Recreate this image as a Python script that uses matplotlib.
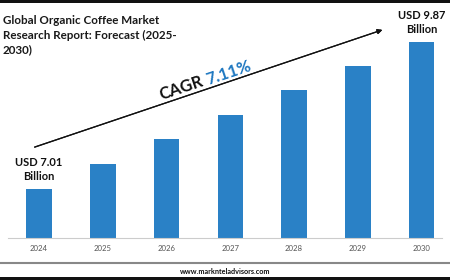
import matplotlib.pyplot as plt
from matplotlib.lines import Line2D
from matplotlib.patches import Rectangle

# data (bar heights are schematic, start value 7.01, end 9.87)
years = ['2024', '2025', '2026', '2027', '2028', '2029', '2030']
values = [7.01, 7.50, 7.98, 8.45, 8.94, 9.40, 9.87]
first_label = 'USD 7.01\nBillion'
last_label = 'USD 9.87\nBillion'
title = 'Global Organic Coffee Market\nResearch Report: Forecast (2025-\n2030)'
cagr_word = 'CAGR'
cagr_value = '7.11%'
source = 'www.marknteladvisors.com'

bar_color = '#2a81c6'
W, H = 450, 280
plt.rcParams['font.family'] = ['Lato', 'DejaVu Sans']

fig = plt.figure(figsize=(4.5, 2.8), dpi=100)
fig.patch.set_facecolor('white')

ax = fig.add_axes([8 / W, (H - 238) / H, 434 / W, 196 / H])
x = range(len(years))
ax.bar(x, values, width=0.4, color=bar_color, zorder=2)
ax.set_ylim(6.057, 9.87)
ax.set_xlim(-0.487, 6.32)
ax.set_xticks(list(x))
ax.set_xticklabels(years, fontsize=5.6, color='#555555')
ax.tick_params(axis='x', length=0, pad=5)
ax.set_yticks([])
for s in ['top', 'right', 'left']:
    ax.spines[s].set_visible(False)
ax.spines['bottom'].set_color('#cccccc')
ax.spines['bottom'].set_linewidth(0.8)

# value labels above first and last bar
lab = dict(ha='center', va='bottom', fontsize=8, fontweight='bold', color='#111111',
           linespacing=1.3)
ax.annotate(first_label, xy=(0, values[0]), xytext=(0, 5), textcoords='offset points', **lab)
ax.annotate(last_label, xy=(6, values[-1]), xytext=(0, 5), textcoords='offset points', **lab)

# title
fig.text(3 / W, 1 - 15 / H, title, ha='left', va='top', fontsize=8.4,
         fontweight='bold', color='#1a1a1a', linespacing=1.4)

# trend arrow
fig.add_artist(plt.annotate('', xy=(385 / W, 1 - 29 / H), xytext=(32 / W, 1 - 148 / H),
                            xycoords='figure fraction', textcoords='figure fraction',
                            arrowprops=dict(arrowstyle='-|>', color='#111111', lw=0.9,
                                            mutation_scale=7)))
ang = 18.6
fig.text(181 / W, 1 - 88 / H, cagr_word, rotation=ang, rotation_mode='anchor',
         ha='center', va='center', fontsize=12, fontweight='bold', color='#111111')
fig.text(229 / W, 1 - 72.5 / H, cagr_value, rotation=ang, rotation_mode='anchor',
         ha='center', va='center', fontsize=12, fontweight='bold', color='#1f78c1')

# frame bits: top bar, bottom rule, source, bottom bar
fig.add_artist(Rectangle((0, 1 - 3 / H), 1, 3 / H, transform=fig.transFigure,
                         color='#111111', lw=0))
fig.add_artist(Line2D([0, 1], [1 - 263 / H, 1 - 263 / H], transform=fig.transFigure,
                      color='#888888', lw=1.5))
fig.text(225 / W, 1 - 271 / H, source, ha='center', va='center', fontsize=5.2,
         fontweight='bold', color='#111111')
fig.add_artist(Rectangle((0, 0), 1, 3.5 / H, transform=fig.transFigure,
                         color='#111111', lw=0))

fig.savefig('out.png', dpi=100)
